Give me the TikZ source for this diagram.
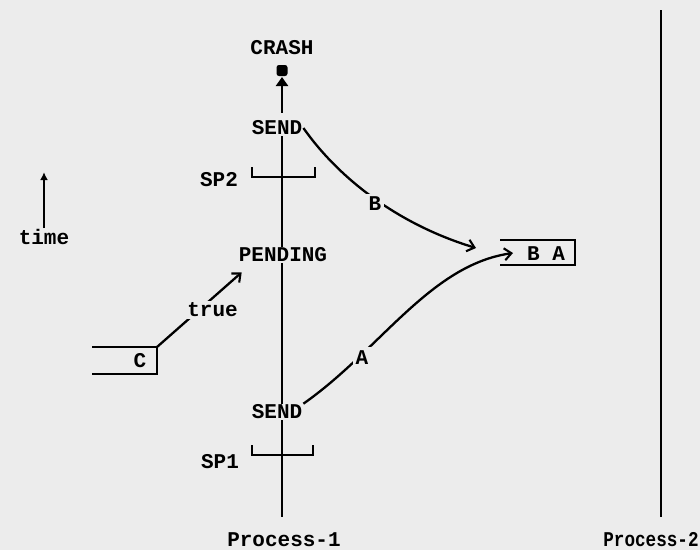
\documentclass[tikz,border=0pt]{standalone}
\usepackage{fontspec}
\setmonofont{Liberation Mono}
\usetikzlibrary{arrows.meta}
\definecolor{bg}{RGB}{236,236,236}
\begin{document}
\begin{tikzpicture}[x=1pt,y=-1pt,
  lbl/.style={font=\ttfamily\bfseries\fontsize{21}{24}\selectfont, inner sep=1pt},
  ln/.style={line width=2.3pt},
  barb/.style={-{Straight Barb[length=7pt,width=12pt,line width=2.1pt]}},
  gapfill/.style={fill=bg, inner sep=3pt}]
\fill[bg] (0,0) rectangle (700,550);
\useasboundingbox (0,0) rectangle (700,550);
% axes
\coordinate (axis) at (282,517);
\coordinate (axis2) at (661,517);
\coordinate (p2top) at (661,10);
% nodes
\node[lbl] (crash) at (282,48) {CRASH};
\node[lbl] (sendtop) at (277,128) {SEND};
\node[lbl] (pending) at (283,255) {PENDING};
\node[lbl] (sendbot) at (277,412) {SEND};
\node[lbl] (sp2) at (219,180) {SP2};
\node[lbl] (sp1) at (220,462) {SP1};
\node[lbl] (p1) at (284,540) {Process-1};
\node[lbl] (p2) at (651,540) {\scalebox{0.84}[1]{Process-2}};
\node[lbl] (time) at (44,237) {time};
\node[lbl] (c) at (140,361) {C};
\node[lbl] (ba) at (546,254) {B\ A};
\coordinate (ccorner) at (157,347);
\coordinate (btip) at (476,248);
\coordinate (atip) at (513,253);
\coordinate (crtip) at (282,77);
% process-1 line
\draw[ln] (sendtop.south -| axis) -- (pending.north -| axis);
\draw[ln] (pending.south -| axis) -- (sendbot.north -| axis);
\draw[ln] (sendbot.south -| axis) -- (axis);
% process-2 line
\draw[ln] (p2top) -- (axis2);
% crash arrow
\path (sendtop.north -| axis) ++(0,-7) coordinate (cr0);
\draw[ln,-{Triangle[length=9pt,width=12pt]}] (cr0) -- (crtip);
\fill[rounded corners=2.5pt] (276.5,65) rectangle (287.5,76);
% brackets
\draw[ln] (252,167) -- (252,177) -- (315,177) -- (315,167);
\draw[ln] (252,445) -- (252,455) -- (313,455) -- (313,445);
% boxes
\draw[ln] (500,240) -- (575,240) -- (575,265) -- (500,265);
\draw[ln] (92,347) -- (ccorner) -- (157,374) -- (92,374);
% time arrow
\draw[ln,-{Latex[length=8pt,width=8pt]}] (time.north) -- ++(0,-56);
% messages
\draw[ln,barb] (sendtop.east) .. controls (340,180) and (400,225) .. (btip)
  node[lbl,gapfill,pos=0.5,yshift=-5pt] {B};
\draw[ln,barb] (sendbot.north east) .. controls (380,350) and (430,265) .. (atip)
  node[lbl,gapfill,pos=0.26,xshift=3pt] {A};
\draw[ln,barb] (ccorner) -- ([xshift=4pt,yshift=-9pt]pending.south west)
  node[lbl,fill=bg,inner sep=2pt,pos=0.55,xshift=9pt,yshift=-4pt] {true};
\end{tikzpicture}
\end{document}
